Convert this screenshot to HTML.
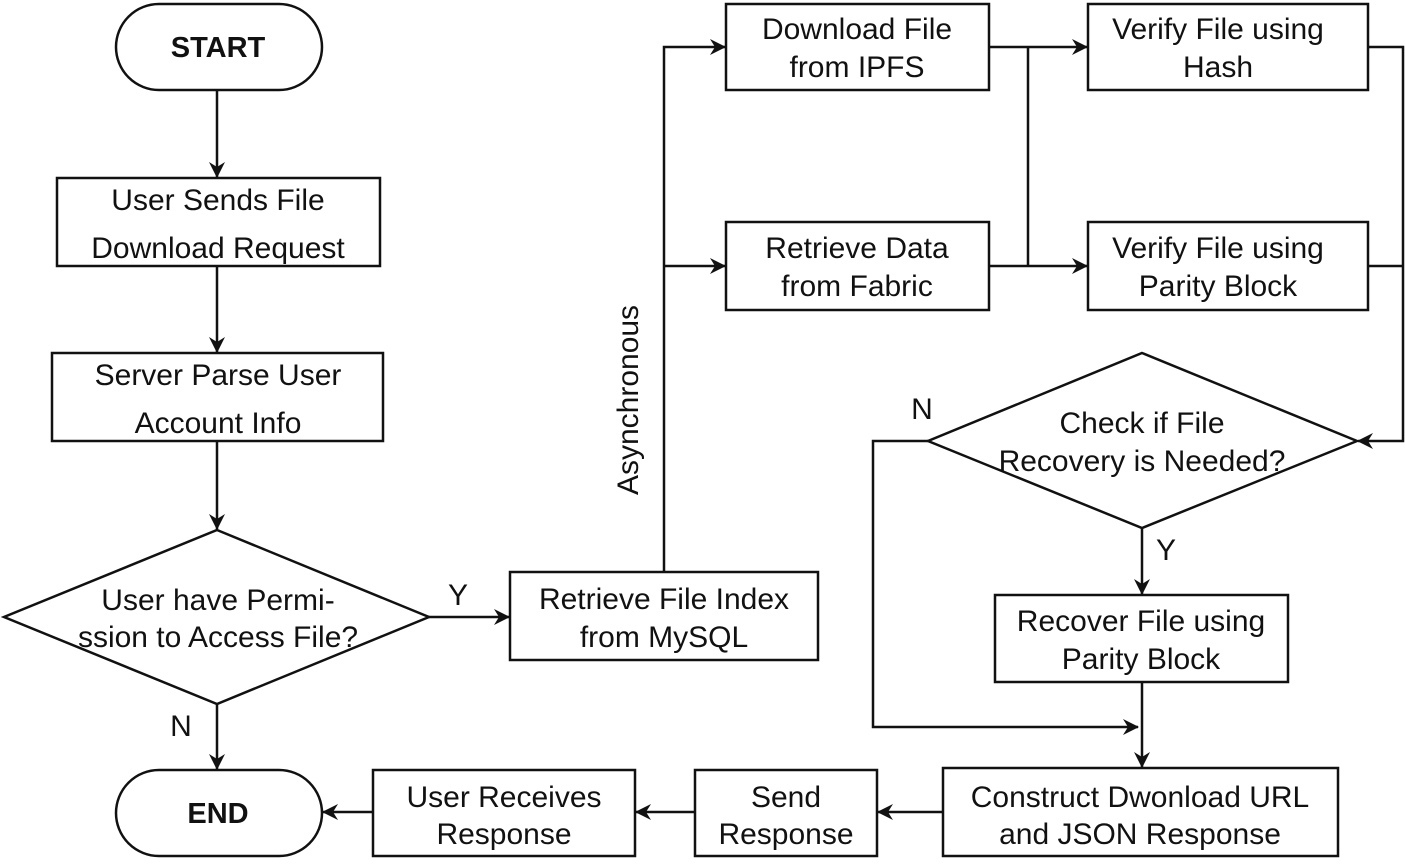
<!DOCTYPE html>
<html><head><meta charset="utf-8"><style>
html,body{margin:0;padding:0;background:#fff;}
svg text{font-family:"Liberation Sans",Arial,sans-serif;font-size:30px;fill:#111;}
</style></head><body>
<svg width="1405" height="862" viewBox="0 0 1405 862" xmlns="http://www.w3.org/2000/svg">
<defs>
<marker id="a" markerWidth="16" markerHeight="16" refX="15" refY="8" orient="auto" markerUnits="userSpaceOnUse">
<path d="M0,0 L16,8 L0,16 L5,8 Z" fill="#111"/>
</marker>
</defs>
<g fill="none" stroke="#111" stroke-width="2.5">
<rect x="116" y="4" width="206" height="86" rx="43"/>
<rect x="57" y="178" width="323" height="88"/>
<rect x="52" y="353" width="331" height="88"/>
<polygon points="217,530 429,617 217,704 4,617"/>
<rect x="116" y="770" width="206" height="86" rx="43"/>
<rect x="510" y="572" width="308" height="88"/>
<rect x="726" y="4" width="263" height="86"/>
<rect x="726" y="222" width="263" height="88"/>
<rect x="1088" y="4" width="280" height="86"/>
<rect x="1088" y="222" width="280" height="88"/>
<polygon points="1142,353 1357,441 1142,528 928,441"/>
<rect x="995" y="595" width="293" height="87"/>
<rect x="943" y="768" width="395" height="88"/>
<rect x="695" y="770" width="182" height="86"/>
<rect x="373" y="770" width="262" height="86"/>

<line x1="217" y1="90" x2="217" y2="177" marker-end="url(#a)"/>
<line x1="217" y1="266" x2="217" y2="352" marker-end="url(#a)"/>
<line x1="217" y1="441" x2="217" y2="529" marker-end="url(#a)"/>
<line x1="217" y1="704" x2="217" y2="769" marker-end="url(#a)"/>
<line x1="429" y1="617" x2="509" y2="617" marker-end="url(#a)"/>
<polyline points="664,572 664,47 725,47" marker-end="url(#a)"/>
<line x1="664" y1="266" x2="725" y2="266" marker-end="url(#a)"/>
<line x1="989" y1="47" x2="1087" y2="47" marker-end="url(#a)"/>
<line x1="989" y1="266" x2="1087" y2="266" marker-end="url(#a)"/>
<line x1="1028" y1="47" x2="1028" y2="266"/>
<polyline points="1368,47 1403,47 1403,441 1358,441" marker-end="url(#a)"/>
<line x1="1368" y1="266" x2="1403" y2="266"/>
<line x1="1142" y1="528" x2="1142" y2="594" marker-end="url(#a)"/>
<line x1="1142" y1="682" x2="1142" y2="767" marker-end="url(#a)"/>
<polyline points="928,441 873,441 873,727 1138,727" marker-end="url(#a)"/>
<line x1="943" y1="812" x2="878" y2="812" marker-end="url(#a)"/>
<line x1="695" y1="812" x2="636" y2="812" marker-end="url(#a)"/>
<line x1="373" y1="812" x2="323" y2="812" marker-end="url(#a)"/>
</g>
<g text-anchor="middle">
<text x="218" y="57" style="font-weight:bold;font-size:29px">START</text>
<text x="218" y="823" style="font-weight:bold;font-size:29px">END</text>
<text x="218" y="210">User Sends File</text>
<text x="218" y="258">Download Request</text>
<text x="218" y="385">Server Parse User</text>
<text x="218" y="433">Account Info</text>
<text x="218" y="610">User have Permi-</text>
<text x="218" y="647">ssion to Access File?</text>
<text x="664" y="609">Retrieve File Index</text>
<text x="664" y="647">from MySQL</text>
<text x="857" y="39">Download File</text>
<text x="857" y="77">from IPFS</text>
<text x="857" y="258">Retrieve Data</text>
<text x="857" y="296">from Fabric</text>
<text x="1218" y="39">Verify File using</text>
<text x="1218" y="77">Hash</text>
<text x="1218" y="258">Verify File using</text>
<text x="1218" y="296">Parity Block</text>
<text x="1142" y="433">Check if File</text>
<text x="1142" y="471">Recovery is Needed?</text>
<text x="1141" y="631">Recover File using</text>
<text x="1141" y="669">Parity Block</text>
<text x="1140" y="807">Construct Dwonload URL</text>
<text x="1140" y="844">and JSON Response</text>
<text x="786" y="807">Send</text>
<text x="786" y="844">Response</text>
<text x="504" y="807">User Receives</text>
<text x="504" y="844">Response</text>
<text x="458" y="605">Y</text>
<text x="181" y="736">N</text>
<text x="922" y="419">N</text>
<text x="1166" y="560">Y</text>
<text transform="translate(638,400) rotate(-90)">Asynchronous</text>
</g>
</svg>
</body></html>
